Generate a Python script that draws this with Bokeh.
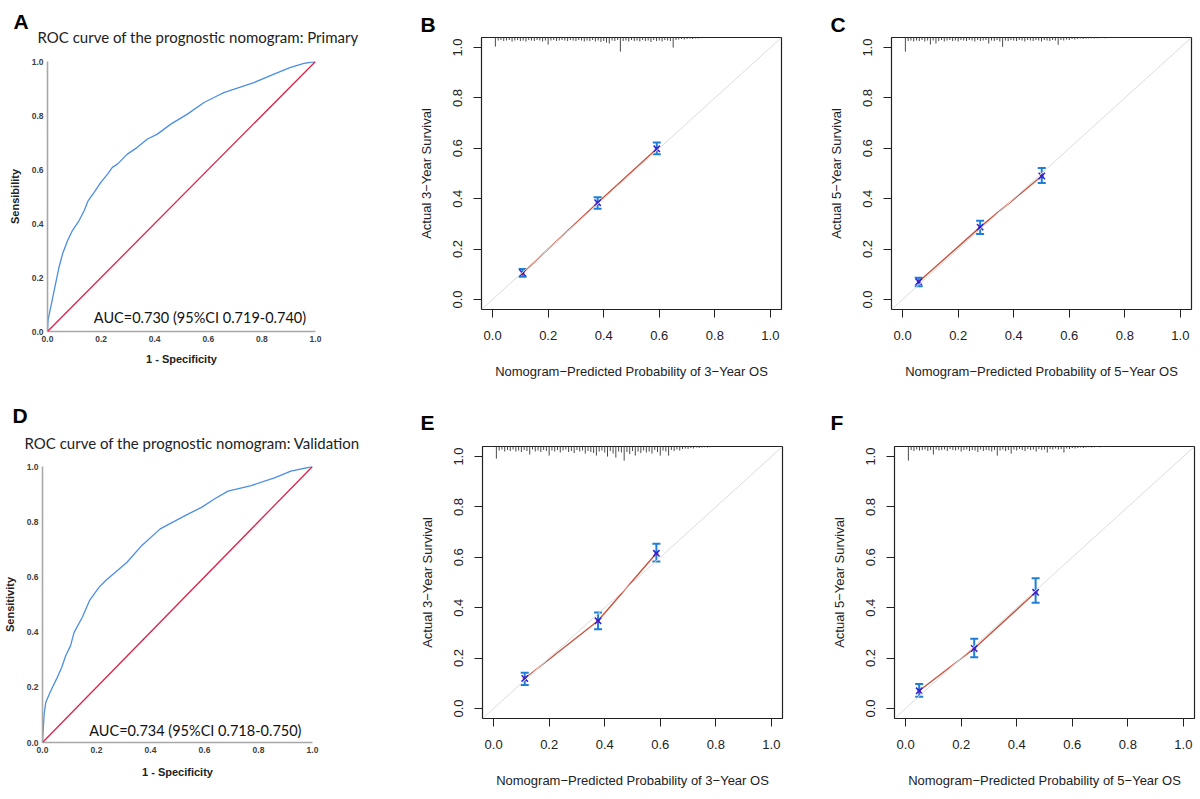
import math
from bokeh.plotting import figure
from bokeh.layouts import row, column
from bokeh.models import (Range1d, Label, Title, Slope, Whisker, TeeHead, ColumnDataSource,
                          FixedTicker, PrintfTickFormatter)
from bokeh.embed import file_html
from bokeh.resources import INLINE

# ======================= DATA =======================
axis_ticks = [0.0, 0.2, 0.4, 0.6, 0.8, 1.0]

# ROC curves (1 - specificity, sensitivity)
roc_primary_fpr = [0.0, 0.002, 0.012, 0.025, 0.043, 0.056, 0.075, 0.093, 0.118, 0.137, 0.152,
                   0.174, 0.199, 0.224, 0.242, 0.261, 0.298, 0.335, 0.373, 0.410, 0.460, 0.522,
                   0.584, 0.634, 0.658, 0.708, 0.770, 0.845, 0.907, 0.957, 1.0]
roc_primary_tpr = [0.0, 0.041, 0.090, 0.152, 0.238, 0.287, 0.337, 0.374, 0.411, 0.448, 0.485,
                   0.515, 0.552, 0.583, 0.608, 0.620, 0.657, 0.682, 0.713, 0.731, 0.768, 0.805,
                   0.848, 0.873, 0.885, 0.901, 0.922, 0.953, 0.978, 0.993, 1.0]
roc_valid_fpr = [0.0, 0.006, 0.012, 0.025, 0.037, 0.055, 0.071, 0.086, 0.104, 0.117, 0.147,
                 0.174, 0.209, 0.233, 0.270, 0.313, 0.368, 0.436, 0.528, 0.589, 0.638, 0.687,
                 0.773, 0.859, 0.920, 1.0]
roc_valid_tpr = [0.0, 0.103, 0.145, 0.175, 0.200, 0.236, 0.272, 0.314, 0.351, 0.399, 0.453,
                 0.514, 0.562, 0.586, 0.617, 0.653, 0.714, 0.774, 0.822, 0.852, 0.883, 0.911,
                 0.931, 0.959, 0.983, 1.0]
roc_primary_title = "ROC curve of the prognostic nomogram: Primary"
roc_valid_title = "ROC curve of the prognostic nomogram: Validation"
auc_primary_text = "AUC=0.730 (95%CI 0.719-0.740)"
auc_valid_text = "AUC=0.734 (95%CI 0.718-0.750)"

# Calibration: predicted, observed, CI low, CI high
b_pred = [0.108, 0.378, 0.591]
b_obs = [0.105, 0.384, 0.598]
b_lo = [0.090, 0.360, 0.576]
b_hi = [0.121, 0.406, 0.623]

c_pred = [0.058, 0.279, 0.501]
c_obs = [0.070, 0.287, 0.490]
c_lo = [0.052, 0.260, 0.462]
c_hi = [0.086, 0.312, 0.522]

e_pred = [0.112, 0.376, 0.586]
e_obs = [0.119, 0.348, 0.616]
e_lo = [0.093, 0.314, 0.583]
e_hi = [0.142, 0.381, 0.654]

f_pred = [0.049, 0.247, 0.468]
f_obs = [0.070, 0.238, 0.461]
f_lo = [0.046, 0.203, 0.420]
f_hi = [0.097, 0.277, 0.517]

# Distribution of predicted probabilities (spike histogram at top)
b_spike_x = [0.01, 0.02, 0.03, 0.04, 0.05, 0.06, 0.07, 0.08, 0.09, 0.10, 0.11, 0.12, 0.13, 0.14, 0.15,
             0.16, 0.17, 0.18, 0.19, 0.20, 0.21, 0.22, 0.23, 0.24, 0.25, 0.26, 0.27, 0.28, 0.29, 0.30,
             0.31, 0.32, 0.33, 0.34, 0.35, 0.36, 0.37, 0.38, 0.39, 0.40, 0.41, 0.42, 0.43, 0.44, 0.45,
             0.46, 0.47, 0.48, 0.49, 0.50, 0.51, 0.52, 0.53, 0.54, 0.55, 0.56, 0.57, 0.58, 0.59, 0.60,
             0.61, 0.62, 0.63, 0.64, 0.65, 0.66, 0.67, 0.68, 0.69, 0.70, 0.71, 0.72, 0.73, 0.74, 0.75]
b_spike_h = [0.036, 0.012, 0.010, 0.014, 0.012, 0.010, 0.016, 0.012, 0.010, 0.014, 0.012, 0.016, 0.010, 0.012, 0.014,
             0.010, 0.012, 0.016, 0.012, 0.028, 0.012, 0.010, 0.014, 0.012, 0.010, 0.012, 0.014, 0.010, 0.012, 0.014,
             0.010, 0.012, 0.016, 0.012, 0.014, 0.010, 0.016, 0.012, 0.018, 0.014, 0.020, 0.024, 0.012, 0.014, 0.010,
             0.056, 0.014, 0.012, 0.016, 0.010, 0.014, 0.012, 0.016, 0.010, 0.014, 0.012, 0.018, 0.010, 0.014, 0.012,
             0.016, 0.010, 0.012, 0.014, 0.040, 0.010, 0.008, 0.006, 0.008, 0.006, 0.004, 0.006, 0.004, 0.004, 0.003]

c_spike_x = [0.01, 0.02, 0.03, 0.04, 0.05, 0.06, 0.07, 0.08, 0.09, 0.10, 0.11, 0.12, 0.13, 0.14, 0.15,
             0.16, 0.17, 0.18, 0.19, 0.20, 0.21, 0.22, 0.23, 0.24, 0.25, 0.26, 0.27, 0.28, 0.29, 0.30,
             0.31, 0.32, 0.33, 0.34, 0.35, 0.36, 0.37, 0.38, 0.39, 0.40, 0.41, 0.42, 0.43, 0.44, 0.45,
             0.46, 0.47, 0.48, 0.49, 0.50, 0.51, 0.52, 0.53, 0.54, 0.55, 0.56, 0.57, 0.58, 0.59, 0.60,
             0.61, 0.62, 0.63, 0.64, 0.65, 0.66, 0.67, 0.68, 0.69, 0.70, 0.71, 0.72, 0.73, 0.74, 0.75,
             0.76, 0.77, 0.78]
c_spike_h = [0.056, 0.014, 0.012, 0.016, 0.012, 0.014, 0.010, 0.016, 0.012, 0.028, 0.012, 0.024, 0.014, 0.010, 0.016,
             0.012, 0.010, 0.014, 0.012, 0.016, 0.010, 0.012, 0.014, 0.010, 0.012, 0.016, 0.010, 0.014, 0.012, 0.010,
             0.024, 0.012, 0.014, 0.010, 0.016, 0.037, 0.012, 0.014, 0.010, 0.012, 0.014, 0.010, 0.012, 0.016, 0.010,
             0.012, 0.014, 0.010, 0.012, 0.016, 0.010, 0.012, 0.014, 0.010, 0.012, 0.029, 0.010, 0.012, 0.008, 0.010,
             0.006, 0.008, 0.006, 0.004, 0.006, 0.004, 0.004, 0.003, 0.004, 0.003, 0.003, 0.002, 0.003, 0.002, 0.002,
             0.002, 0.002, 0.002]

e_spike_x = c_spike_x
e_spike_h = [0.048, 0.016, 0.012, 0.020, 0.014, 0.018, 0.012, 0.020, 0.016, 0.022, 0.014, 0.018, 0.032, 0.012, 0.020,
             0.016, 0.022, 0.014, 0.018, 0.036, 0.016, 0.020, 0.014, 0.024, 0.016, 0.012, 0.022, 0.018, 0.026, 0.014,
             0.020, 0.016, 0.028, 0.018, 0.022, 0.026, 0.036, 0.020, 0.016, 0.024, 0.040, 0.018, 0.028, 0.044, 0.020,
             0.024, 0.056, 0.022, 0.030, 0.018, 0.036, 0.020, 0.026, 0.016, 0.024, 0.020, 0.028, 0.014, 0.022, 0.036,
             0.016, 0.020, 0.036, 0.014, 0.018, 0.012, 0.016, 0.010, 0.008, 0.010, 0.006, 0.008, 0.004, 0.006, 0.004,
             0.003, 0.004, 0.003]

f_spike_x = [0.01, 0.02, 0.03, 0.04, 0.05, 0.06, 0.07, 0.08, 0.09, 0.10, 0.11, 0.12, 0.13, 0.14, 0.15,
             0.16, 0.17, 0.18, 0.19, 0.20, 0.21, 0.22, 0.23, 0.24, 0.25, 0.26, 0.27, 0.28, 0.29, 0.30,
             0.31, 0.32, 0.33, 0.34, 0.35, 0.36, 0.37, 0.38, 0.39, 0.40, 0.41, 0.42, 0.43, 0.44, 0.45,
             0.46, 0.47, 0.48, 0.49, 0.50, 0.51, 0.52, 0.53, 0.54, 0.55, 0.56, 0.57, 0.58, 0.59, 0.60,
             0.61, 0.62, 0.63, 0.64, 0.65, 0.66, 0.67, 0.68, 0.69, 0.70, 0.71, 0.72]
f_spike_h = [0.056, 0.014, 0.018, 0.012, 0.016, 0.014, 0.012, 0.018, 0.014, 0.032, 0.012, 0.016, 0.014, 0.012, 0.018,
             0.010, 0.014, 0.016, 0.012, 0.020, 0.014, 0.012, 0.018, 0.014, 0.016, 0.022, 0.012, 0.018, 0.014, 0.016,
             0.020, 0.014, 0.036, 0.016, 0.012, 0.018, 0.014, 0.028, 0.012, 0.016, 0.010, 0.014, 0.018, 0.010, 0.014,
             0.012, 0.020, 0.010, 0.014, 0.012, 0.024, 0.010, 0.012, 0.008, 0.012, 0.010, 0.024, 0.008, 0.010, 0.006,
             0.008, 0.006, 0.004, 0.006, 0.004, 0.003, 0.004, 0.003, 0.002, 0.003, 0.002, 0.002]

# ======================= LAYOUT =======================
COL_W = [400, 412, 388]
ROW_H = [395, 404]

ARIAL = "Liberation Sans"
TITLE_FONT = "Lato"


def make_fig(ci, ri, borders, xr, yr):
    L, R, T, B = borders
    p = figure(width=COL_W[ci], height=ROW_H[ri], x_range=Range1d(*xr), y_range=Range1d(*yr),
               output_backend="svg", toolbar_location=None,
               min_border_left=L, min_border_right=R, min_border_top=T, min_border_bottom=B)
    p.grid.visible = False
    p.background_fill_color = "white"
    p.border_fill_color = "white"
    return p


def style_title(t, text, size, offset, standoff, bold=False, font=ARIAL, color="black"):
    t.text = text
    t.align = "left"
    t.offset = offset
    t.standoff = standoff
    t.text_font = font
    t.text_font_size = f"{size}px"
    t.text_font_style = "bold" if bold else "normal"
    t.text_color = color
    return t


def roc_panel(ci, ri, borders, fpr, tpr, letter, title, auc, auc_xy, ylab, offs):
    p = make_fig(ci, ri, borders, (0, 1), (0, 1))
    p.outline_line_color = None
    for ax in (p.xaxis, p.yaxis):
        ax.ticker = FixedTicker(ticks=axis_ticks)
        ax.formatter = PrintfTickFormatter(format="%.1f")
        ax.axis_line_color = "#a8a8a8"
        ax.axis_line_width = 1.6
        ax.major_tick_out = 0
        ax.major_tick_in = 0
        ax.minor_tick_out = 0
        ax.minor_tick_in = 0
        ax.major_label_text_font = ARIAL
        ax.major_label_text_font_size = "8.5px"
        ax.major_label_text_font_style = "bold"
        ax.major_label_text_color = "#404040"
        ax.axis_label_text_font = ARIAL
        ax.axis_label_text_font_size = "11px"
        ax.axis_label_text_font_style = "bold"
        ax.axis_label_text_color = "#222222"
    p.xaxis.major_label_standoff = 4
    p.yaxis.major_label_standoff = 4
    p.xaxis.axis_label = "1 - Specificity"
    p.yaxis.axis_label = ylab
    p.xaxis.axis_label_standoff = offs["xlab"]
    p.yaxis.axis_label_standoff = offs["ylab"]
    p.add_layout(Slope(gradient=1, y_intercept=0, line_color="#dc2249", line_width=1.3))
    p.line(fpr, tpr, line_color="#4b8ee3", line_width=1.3)
    p.add_layout(Label(x=auc_xy[0], y=auc_xy[1], text=auc, text_font=TITLE_FONT,
                       text_font_size="14.5px", text_color="#111111", text_baseline="alphabetic"))
    # panel letter: outermost title; panel heading: title next to the frame
    style_title(p.title, letter, 21, offs["letter"][0], offs["letter"][1], bold=True)
    p.add_layout(style_title(Title(), title, 15, offs["title"][0], offs["title"][1],
                             font=TITLE_FONT, color="#222222"), "above")
    return p


def cal_panel(ci, ri, borders, pred, obs, lo, hi, sx, sh, letter, letter_off, years):
    xr = (-0.04, 1.04)
    p = make_fig(ci, ri, borders, xr, xr)
    p.outline_line_color = "#222222"
    p.outline_line_width = 1.2
    for ax in (p.xaxis, p.yaxis):
        ax.ticker = FixedTicker(ticks=axis_ticks)
        ax.formatter = PrintfTickFormatter(format="%.1f")
        ax.axis_line_color = None
        ax.major_tick_out = 8
        ax.major_tick_in = 0
        ax.minor_tick_out = 0
        ax.minor_tick_in = 0
        ax.major_tick_line_color = "#222222"
        ax.major_label_text_font = ARIAL
        ax.major_label_text_font_size = "13px"
        ax.major_label_text_color = "#222222"
        ax.axis_label_text_font = ARIAL
        ax.axis_label_text_font_size = "13px"
        ax.axis_label_text_font_style = "normal"
        ax.axis_label_text_color = "#222222"
    p.xaxis.major_label_standoff = 13
    p.yaxis.major_label_standoff = 11
    p.yaxis.major_label_orientation = "vertical"
    p.xaxis.axis_label = f"Nomogram\u2212Predicted Probability of {years}\u2212Year OS"
    p.yaxis.axis_label = f"Actual {years}\u2212Year Survival"
    p.xaxis.axis_label_standoff = 21
    p.yaxis.axis_label_standoff = 17

    p.add_layout(Slope(gradient=1, y_intercept=0, line_color="#dcdcdc", line_width=1))
    top = xr[1]
    p.segment(x0=sx, y0=[top] * len(sx), x1=sx, y1=[top - h for h in sh],
              line_color="#4a4a4a", line_width=1)
    p.line(pred, obs, line_color="#c8533f", line_width=1.4)
    eb = "#1f7fd6"
    src = ColumnDataSource(dict(x=pred, lo=lo, hi=hi))
    p.add_layout(Whisker(source=src, base="x", upper="hi", lower="lo", line_color=eb, line_width=2,
                         upper_head=TeeHead(size=8, line_color=eb, line_width=2),
                         lower_head=TeeHead(size=8, line_color=eb, line_width=2)))
    p.scatter(pred, obs, marker="circle", size=4, fill_color="#e0303a", line_color=None)
    p.scatter(pred, obs, marker="x", size=9, line_color="#2424e6", line_width=1.5)
    style_title(p.title, letter, 21, letter_off[0], letter_off[1], bold=True)
    return p


pA = roc_panel(0, 0, (47, 85, 61, 64), roc_primary_fpr, roc_primary_tpr, "A",
               roc_primary_title, auc_primary_text, (0.173, 0.052), "Sensibility",
               dict(letter=(-34, -46), title=(-10, 32), ylab=8, xlab=8))
pD = roc_panel(0, 1, (40, 88, 71, 57), roc_valid_fpr, roc_valid_tpr, "D",
               roc_valid_title, auc_valid_text, (0.173, 0.045), "Sensitivity",
               dict(letter=(-30, -20), title=(-18, 30), ylab=8, xlab=10))

pB = cal_panel(1, 0, (81, 31, 37, 86), b_pred, b_obs, b_lo, b_hi, b_spike_x, b_spike_h,
               "B", (-61, 3), 3)
pC = cal_panel(2, 0, (79, 9, 37, 86), c_pred, c_obs, c_lo, c_hi, c_spike_x, c_spike_h,
               "C", (-61, 4), 5)
pE = cal_panel(1, 1, (82, 30, 51, 81), e_pred, e_obs, e_lo, e_hi, e_spike_x, e_spike_h,
               "E", (-62, 25), 3)
pF = cal_panel(2, 1, (82, 6, 51, 81), f_pred, f_obs, f_lo, f_hi, f_spike_x, f_spike_h,
               "F", (-64, 25), 5)

layout = column(row(column(pA), column(pB), column(pC), spacing=0),
                row(column(pD), column(pE), column(pF), spacing=0), spacing=0)
open("out.html", "w").write(file_html(layout, INLINE))
